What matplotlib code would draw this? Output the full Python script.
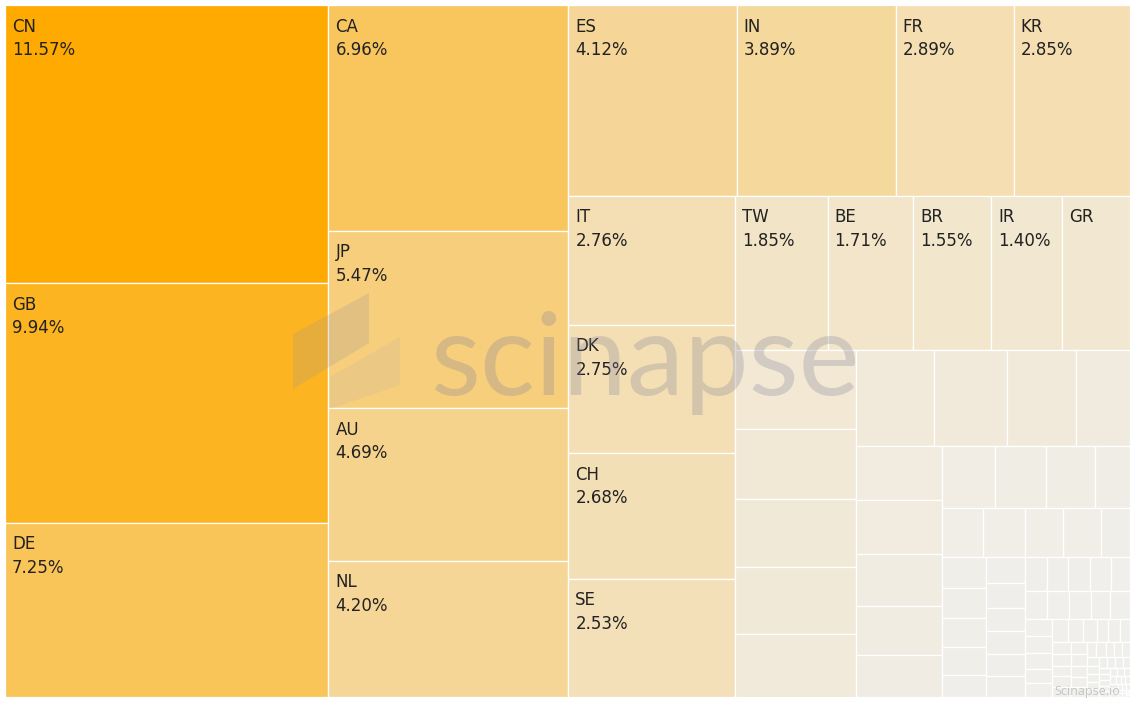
import numpy as np
import matplotlib.pyplot as plt
from matplotlib.colors import LinearSegmentedColormap
from matplotlib.patches import Rectangle, Polygon

# share of papers by country (%)
countries = ["CN", "GB", "DE", "CA", "JP", "AU", "NL", "ES", "IN", "FR",
             "KR", "IT", "DK", "CH", "SE", "TW", "BE", "BR", "IR", "GR"]
shares = [11.57, 9.94, 7.25, 6.96, 5.47, 4.69, 4.20, 4.12, 3.89, 2.89,
          2.85, 2.76, 2.75, 2.68, 2.53, 1.85, 1.71, 1.55, 1.40, 1.36]
pct_hidden = ["GR"]

# unlabelled small countries
minor_shares = [1.217, 1.088, 1.068, 1.030, 0.985,
                0.956, 0.891, 0.854, 0.655,
                0.600, 0.597, 0.574, 0.541, 0.468,
                0.430, 0.406, 0.393, 0.281,
                0.263, 0.263, 0.238, 0.238, 0.186,
                0.177, 0.168, 0.164, 0.160, 0.127,
                0.125, 0.124, 0.117, 0.113, 0.110, 0.102,
                0.095, 0.094, 0.093, 0.089, 0.083,
                0.080, 0.079, 0.077, 0.070, 0.070, 0.063,
                0.061, 0.055, 0.052, 0.049, 0.046,
                0.045, 0.040, 0.034, 0.034, 0.031, 0.031,
                0.027, 0.026, 0.026, 0.024, 0.024,
                0.024, 0.022, 0.021, 0.020, 0.019, 0.018, 0.017, 0.016,
                0.015, 0.014, 0.013, 0.013, 0.012, 0.012, 0.011, 0.011,
                0.010, 0.010, 0.009, 0.009, 0.008, 0.008, 0.008, 0.007,
                0.007, 0.006, 0.006, 0.005, 0.005, 0.005, 0.004, 0.004,
                0.004, 0.003, 0.003, 0.003, 0.002, 0.002, 0.002, 0.002,
                0.001, 0.001, 0.001, 0.001]

names = countries + [""] * len(minor_shares)
values = shares + minor_shares
order = np.argsort(values, kind="stable")[::-1]
names = [names[i] for i in order]
values = [values[i] for i in order]


def squarify(vals, x0, y0, x1, y1, ratio=(1 + 5 ** 0.5) / 2):
    # squarified layout with golden-ratio target (same as d3.treemapSquarify)
    rects = []
    n = len(vals)
    total = float(sum(vals))
    i0 = 0
    while i0 < n:
        dx, dy = x1 - x0, y1 - y0
        i1 = i0 + 1
        s = vals[i0]
        mn = mx = s
        alpha = max(dy / dx, dx / dy) / (total * ratio)
        beta = s * s * alpha
        best = max(mx / beta, beta / mn)
        while i1 < n:
            v = vals[i1]
            s2 = s + v
            beta = s2 * s2 * alpha
            new = max(max(mx, v) / beta, beta / min(mn, v))
            if new > best:
                break
            s, mn, mx, best = s2, min(mn, v), max(mx, v), new
            i1 += 1
        row = vals[i0:i1]
        if dx < dy:
            h = dy * s / total if total > 0 else dy
            xx = x0
            for v in row:
                w = dx * v / s
                rects.append((xx, y0, w, h))
                xx += w
            y0 += h
        else:
            w = dx * s / total if total > 0 else dx
            yy = y0
            for v in row:
                h = dy * v / s
                rects.append((x0, yy, w, h))
                yy += h
            x0 += w
        total -= s
        i0 = i1
    return rects


W, H = 1125, 692
rects = squarify(values, 0, 0, W, H)

cmap = LinearSegmentedColormap.from_list("tab_orange", ["#f0efec", "#ffaa00"])
vmax = max(values)

fig = plt.figure(figsize=(11.34, 7.01), dpi=100)
ax = fig.add_axes([5 / 1134, 4 / 701, W / 1134, H / 701])
ax.set_xlim(0, W)
ax.set_ylim(H, 0)
ax.axis("off")

for (x, y, w, h), name, v in zip(rects, names, values):
    ax.add_patch(Rectangle((x, y), w, h, facecolor=cmap(v / vmax),
                           edgecolor="white", linewidth=0.9))
    if name:
        ax.text(x + 7, y + 12.5, name, fontsize=12, color="#222222",
                family="DejaVu Sans", va="top", ha="left")
        if name not in pct_hidden:
            ax.text(x + 7, y + 36, f"{v:.2f}%", fontsize=12, color="#222222",
                    family="DejaVu Sans", va="top", ha="left")

# scinapse watermark
ax.add_patch(Polygon([(288, 329), (364, 288), (364, 338), (288, 384)],
                     closed=True, facecolor="#a39a90", alpha=0.25, lw=0))
ax.add_patch(Polygon([(325, 372), (395, 332), (395, 380), (325, 404)],
                     closed=True, facecolor="#b8b0a6", alpha=0.18, lw=0))
ax.text(425, 390, "scinapse", fontsize=83, family="Lato",
        color="#80809a", alpha=0.28, ha="left", va="baseline")
ax.text(1115, 686, "Scinapse.io", fontsize=9, family="Open Sans",
        color="#c4c4c4", ha="right", va="center")

fig.savefig("out.png", dpi=100, facecolor="white")
